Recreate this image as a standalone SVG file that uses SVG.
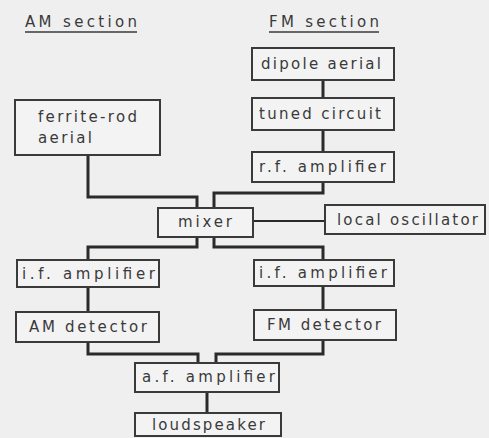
<svg xmlns="http://www.w3.org/2000/svg" width="489" height="438" viewBox="0 0 489 438">
<style>
.bg{fill:#efefef}
.box{fill:#f3f3f3;stroke:#3a3a3a;stroke-width:2}
.t{font-family:"DejaVu Sans","Liberation Sans",sans-serif;font-size:15px;fill:#3a3a3a}
.c{fill:none;stroke:#2a2a2a;stroke-width:3;stroke-linejoin:miter}
.thin{fill:none;stroke:#2a2a2a;stroke-width:2}
.ul{stroke:#3a3a3a;stroke-width:1.5}
</style>
<rect class="bg" x="0" y="0" width="489" height="438"/>
<g id="headings">
<text class="t" x="25" y="27" textLength="112" lengthAdjust="spacing">AM section</text>
<line class="ul" x1="25" y1="32" x2="137" y2="32"/>
<text class="t" x="269" y="27" textLength="110" lengthAdjust="spacing">FM section</text>
<line class="ul" x1="269" y1="32" x2="379" y2="32"/>
</g>
<g id="connectors">
<line class="c" x1="323" y1="80" x2="323" y2="98"/>
<line class="c" x1="323" y1="130" x2="323" y2="152"/>
<path class="c" d="M88,155 V197 H197 V208"/>
<path class="c" d="M323,182 V193 H214 V208"/>
<line class="thin" x1="253" y1="221" x2="325" y2="221"/>
<path class="c" d="M197,237 V247 H88 V260"/>
<path class="c" d="M214,237 V247 H323 V260"/>
<line class="c" x1="88" y1="287" x2="88" y2="312"/>
<line class="c" x1="323" y1="286" x2="323" y2="310"/>
<path class="c" d="M88,342 V354 H198 V363"/>
<path class="c" d="M323,340 V354 H216 V363"/>
<line class="c" x1="207" y1="392" x2="207" y2="413"/>
</g>
<g id="dipole"><rect class="box" x="252" y="48" width="142" height="32"/><text class="t" x="261" y="69" textLength="120" lengthAdjust="spacing">dipole aerial</text></g>
<g id="tuned"><rect class="box" x="252" y="98" width="142" height="32"/><text class="t" x="259" y="119" textLength="122" lengthAdjust="spacing">tuned circuit</text></g>
<g id="ferrite"><rect class="box" x="15" y="100" width="145" height="55"/><text class="t" x="38" y="122" textLength="99" lengthAdjust="spacing">ferrite-rod</text><text class="t" x="38" y="143" textLength="54" lengthAdjust="spacing">aerial</text></g>
<g id="rfamp"><rect class="box" x="252" y="152" width="142" height="30"/><text class="t" x="259" y="172" textLength="127" lengthAdjust="spacing">r.f. amplifier</text></g>
<g id="mixer"><rect class="box" x="158" y="208" width="95" height="29"/><text class="t" x="178" y="227" textLength="54" lengthAdjust="spacing">mixer</text></g>
<g id="localosc"><rect class="box" x="325" y="205" width="160" height="29"/><text class="t" x="337" y="225" textLength="141" lengthAdjust="spacing">local oscillator</text></g>
<g id="ifampL"><rect class="box" x="17" y="260" width="142" height="27"/><text class="t" x="22" y="279" textLength="133" lengthAdjust="spacing">i.f. amplifier</text></g>
<g id="ifampR"><rect class="box" x="254" y="260" width="140" height="26"/><text class="t" x="259" y="278" textLength="128" lengthAdjust="spacing">i.f. amplifier</text></g>
<g id="amdet"><rect class="box" x="16" y="312" width="143" height="30"/><text class="t" x="29" y="332" textLength="118" lengthAdjust="spacing">AM detector</text></g>
<g id="fmdet"><rect class="box" x="254" y="310" width="142" height="30"/><text class="t" x="267" y="330" textLength="114" lengthAdjust="spacing">FM detector</text></g>
<g id="afamp"><rect class="box" x="135" y="363" width="144" height="29"/><text class="t" x="142" y="382" textLength="133" lengthAdjust="spacing">a.f. amplifier</text></g>
<g id="loudspeaker"><rect class="box" x="135" y="413" width="146" height="23"/><text class="t" x="152" y="430" textLength="113" lengthAdjust="spacing">loudspeaker</text></g>
</svg>
